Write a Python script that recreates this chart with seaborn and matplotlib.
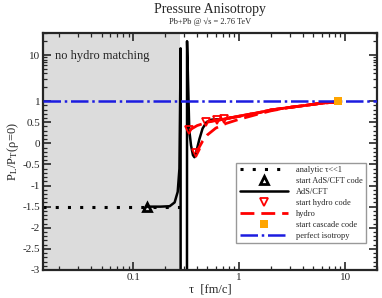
import numpy as np
import pandas as pd
import matplotlib
matplotlib.use("Agg")
import matplotlib.pyplot as plt
import seaborn as sns

sns.set_style("ticks")
plt.rcParams["font.family"] = ["Liberation Serif", "DejaVu Serif"]
plt.rcParams["mathtext.fontset"] = "stix"
plt.rcParams["axes.unicode_minus"] = False

# analytic tau<<1 line
analytic_tau = [0.014, 0.275]
analytic_val = [-1.5, -1.5]

# AdS/CFT curve (two poles where P_T crosses zero)
ads_tau = [0.135, 0.18, 0.22, 0.245, 0.262, 0.272, 0.277, 0.279, 0.281, 0.318, 0.321,
           0.326, 0.331, 0.337, 0.35, 0.365, 0.377, 0.39, 0.42, 0.45, 0.49, 0.55, 0.65]
ads_val = [-1.5, -1.5, -1.49, -1.4, -1.15, -0.6, 2.0, 14.0, -40.0, -40.0, 20.0,
           5.0, 1.2, 0.31, -0.05, -0.28, -0.33, -0.23, 0.1, 0.35, 0.5, 0.56, 0.57]
ads_start_tau = [0.135]
ads_start_val = [-1.5]

# hydro starts and curves
hydro_start_tau = [0.337, 0.39, 0.49, 0.62, 0.72]
hydro_start_val = [0.31, -0.23, 0.50, 0.54, 0.57]
hydro_curves = [
    ([0.337, 0.4, 0.5, 0.7, 1.0, 1.5, 2.0, 3.0, 4.0, 6.0, 8.6],
     [0.31, 0.42, 0.5, 0.57, 0.64, 0.72, 0.79, 0.85, 0.89, 0.95, 0.98]),
    ([0.39, 0.45, 0.5, 0.6, 0.75, 1.0, 1.5, 2.0, 3.0, 4.0, 6.0, 8.6],
     [-0.23, 0.05, 0.2, 0.36, 0.47, 0.57, 0.69, 0.77, 0.85, 0.89, 0.95, 0.98]),
    ([0.49, 0.6, 0.8, 1.0, 1.5, 2.0, 3.0, 4.0, 6.0, 8.6],
     [0.50, 0.55, 0.6, 0.64, 0.72, 0.79, 0.85, 0.89, 0.95, 0.98]),
    ([0.62, 0.8, 1.0, 1.5, 2.0, 3.0, 4.0, 6.0, 8.6],
     [0.54, 0.6, 0.645, 0.725, 0.79, 0.85, 0.89, 0.95, 0.98]),
    ([0.72, 0.9, 1.2, 1.5, 2.0, 3.0, 4.0, 6.0, 8.6],
     [0.57, 0.62, 0.68, 0.725, 0.79, 0.85, 0.89, 0.95, 0.98]),
]

cascade_tau = [8.6]
cascade_val = [0.99]

iso_tau = [0.014, 20]
iso_val = [1, 1]

fig, ax = plt.subplots(figsize=(3.82, 2.98), dpi=100)
fig.subplots_adjust(left=0.1126, right=0.987, bottom=0.094, top=0.889)

ax.axvspan(0.001, 0.275, color="#dcdcdc", zorder=0, lw=0)

sns.lineplot(x=analytic_tau, y=analytic_val, ax=ax, color="black", lw=2.2,
             linestyle=(0, (1, 3)), estimator=None, sort=False, label="analytic τ<<1")
sns.lineplot(x=ads_start_tau, y=ads_start_val, ax=ax, marker="^", linestyle="",
             markerfacecolor="none", markeredgecolor="black", color="black", ms=5.5, mew=2,
             estimator=None, sort=False, label="start AdS/CFT code", zorder=5)
sns.lineplot(x=ads_tau, y=ads_val, ax=ax, color="black", lw=1.8,
             estimator=None, sort=False, label="AdS/CFT")
sns.lineplot(x=hydro_start_tau, y=hydro_start_val, ax=ax, marker="v", linestyle="",
             markerfacecolor="none", markeredgecolor="red", color="red", ms=6, mew=1.3,
             estimator=None, sort=False, label="start hydro code", zorder=4)
for i, (t, v) in enumerate(hydro_curves):
    sns.lineplot(x=t, y=v, ax=ax, color="red", lw=2, linestyle=(0, (5, 2.5)),
                 estimator=None, sort=False, label="hydro" if i == 0 else None)
sns.lineplot(x=cascade_tau, y=cascade_val, ax=ax, marker="s", linestyle="",
             color="orange", markeredgecolor="orange", ms=6, mew=0,
             estimator=None, sort=False, label="start cascade code", zorder=5)
sns.lineplot(x=iso_tau, y=iso_val, ax=ax, color="#1c1ce0", lw=1.8,
             linestyle=(0, (7, 1.5, 1, 1.5)), estimator=None, sort=False,
             label="perfect isotropy", zorder=3)

# y axis: linear below 1, logarithmic above
c = 1.09


def fwd(y):
    y = np.asarray(y, dtype=float)
    return np.where(y <= 1, y, 1 + c * np.log10(np.maximum(y, 1)))


def inv(f):
    f = np.asarray(f, dtype=float)
    return np.where(f <= 1, f, 10 ** ((np.maximum(f, 1) - 1) / c))


ax.set_xscale("log")
ax.set_yscale("function", functions=(fwd, inv))
ax.set_xlim(0.014, 20)
ax.set_ylim(-3, 30)

yt = [-3, -2.5, -2, -1.5, -1, -0.5, 0, 0.5, 1, 10]
ax.set_yticks(yt)
ax.set_yticklabels([("%g" % v) for v in yt])
ax.yaxis.set_minor_locator(matplotlib.ticker.FixedLocator(
    list(np.round(np.arange(-3, 1.0, 0.1), 2)) + [2, 3, 4, 5, 6, 7, 8, 9, 20, 30]))
ax.set_xticks([0.1, 1, 10])
ax.set_xticklabels(["0.1", "1", "10"])
ax.xaxis.set_minor_locator(matplotlib.ticker.LogLocator(base=10, subs=np.arange(2, 10)))
ax.xaxis.set_minor_formatter(matplotlib.ticker.NullFormatter())

ax.tick_params(which="both", direction="in", top=True, right=True, labelsize=8, pad=2)
ax.tick_params(which="major", length=6, width=1.2)
ax.tick_params(which="minor", length=3, width=0.9)
for s in ax.spines.values():
    s.set_linewidth(1.6)

ax.set_xlabel("τ  [fm/c]", fontsize=9, labelpad=1)
ax.set_ylabel(r"P$_{\rm L}$/P$_{\rm T}$(ρ=0)", fontsize=9, labelpad=1)

ax.text(0.018, 9.6, "no hydro matching", fontsize=9, va="center", ha="left")

fig.text(0.55, 1 - 10 / 298, "Pressure Anisotropy", fontsize=10, ha="center", va="center")
fig.text(0.55, 1 - 22 / 298, "Pb+Pb @ √s = 2.76 TeV", fontsize=6, ha="center", va="center")

leg = ax.legend(loc="lower left", bbox_to_anchor=(0.566, 0.097), fontsize=6,
                handlelength=5.8, handletextpad=1.0, labelspacing=0.35, borderpad=0.4,
                fancybox=False, framealpha=1, edgecolor="#999999", numpoints=1)
leg.get_frame().set_linewidth(1.0)

fig.savefig("out.png", dpi=100)
